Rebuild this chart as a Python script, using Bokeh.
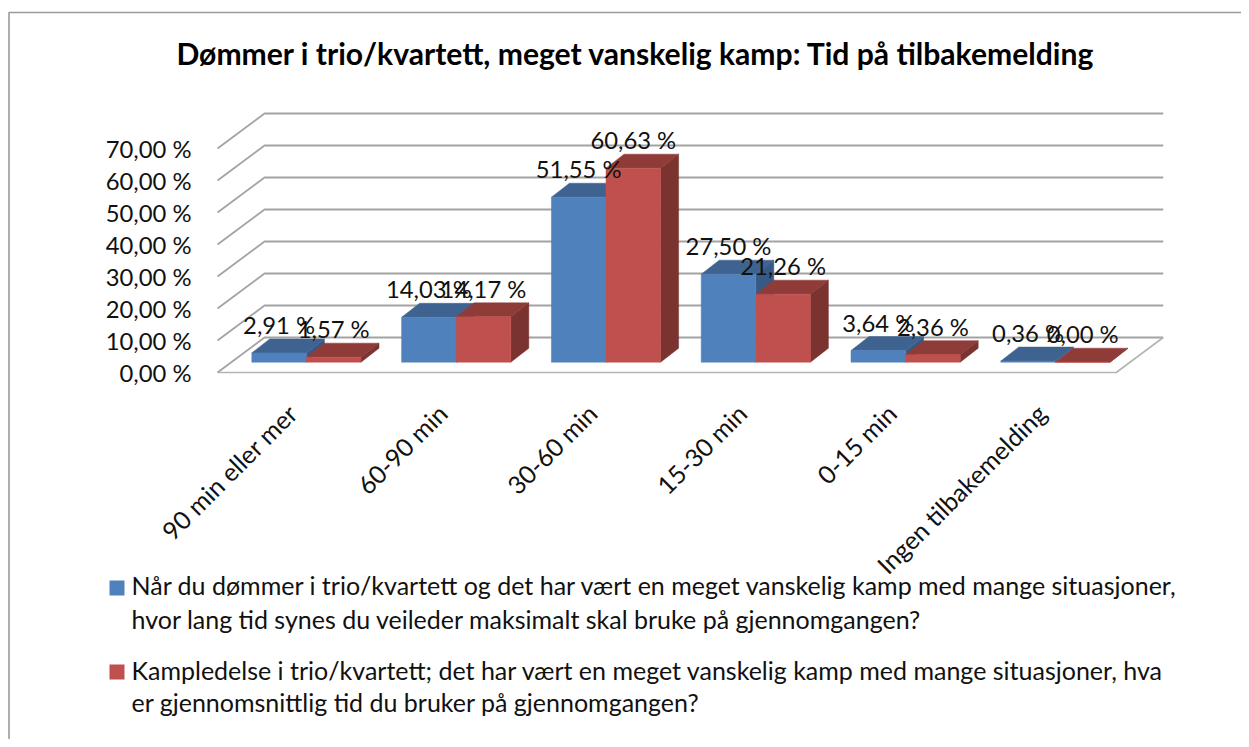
from bokeh.plotting import figure
from bokeh.models import LinearAxis, FixedTicker, Label, Range1d
from bokeh.embed import file_html
from bokeh.resources import INLINE
from bokeh.core.properties import value
import math

# ---------- data ----------
title_text = "Dømmer i trio/kvartett, meget vanskelig kamp: Tid på tilbakemelding"
categories = ["90 min eller mer", "60-90 min", "30-60 min", "15-30 min", "0-15 min", "Ingen tilbakemelding"]
series_a = [2.91, 14.03, 51.55, 27.50, 3.64, 0.36]
series_b = [1.57, 14.17, 60.63, 21.26, 2.36, 0.00]
y_ticks = [0, 10, 20, 30, 40, 50, 60, 70]
y_tick_labels = ["0,00 %", "10,00 %", "20,00 %", "30,00 %", "40,00 %", "50,00 %", "60,00 %", "70,00 %"]
legend_a = ["Når du dømmer i trio/kvartett og det har vært en meget vanskelig kamp med mange situasjoner,",
            "hvor lang tid synes du veileder maksimalt skal bruke på gjennomgangen?"]
legend_b = ["Kampledelse i trio/kvartett; det har vært en meget vanskelig kamp med mange situasjoner, hva",
            "er gjennomsnittlig tid du bruker på gjennomgangen?"]

# ---------- layout constants (pixel positions of the picture) ----------
W, H = 1241, 739
FONT = "Lato"
CAT_PX = 149.8          # px per category
PCT_PX = 3.2            # px per percent
X0_PX = 291.9           # px of first category centre on the front floor edge
Y0_PX = 372.0           # px of 0 % on the front floor edge

def xd(px): return px / CAT_PX          # px length -> data x
def yd(px): return px / PCT_PX          # px length -> data y
def X(px): return (px - X0_PX) / CAT_PX
def Y(px): return (Y0_PX - px) / PCT_PX

p = figure(width=W, height=H, output_backend="svg", toolbar_location=None,
           x_range=Range1d(X(0), X(W)), y_range=Range1d(Y(H), Y(0)),
           min_border=0, min_border_left=0, min_border_right=0, min_border_top=0, min_border_bottom=0,
           x_axis_type=None, y_axis_type=None)
p.grid.visible = False
p.outline_line_color = None
p.background_fill_color = "white"
p.border_fill_color = "white"

GRID = "#A3A3A3"
depth_x, depth_y = xd(47), yd(35)
floor_l = X(217)
floor_r = X(1115.7)

# chart frame (top + left edges only are in view)
p.line([X(W), X(8.5), X(8.5)], [Y(12), Y(12), Y(H)], line_color="#9A9A9A", line_width=1.6)

# gridlines on wall and side wall
xs, ys = [], []
for t in y_ticks:
    xs.append([floor_l, floor_l + depth_x, floor_r + depth_x])
    ys.append([t, t + depth_y, t + depth_y])
p.multi_line(xs, ys, line_color=GRID, line_width=1.8)
# floor front and right edges
p.line([floor_l, floor_r, floor_r + depth_x], [0, 0, depth_y], line_color="#B4B4B4", line_width=1.6)

# ---------- 3D bars ----------
BAR = xd(54.6)
SIDE_X, SIDE_Y = xd(18), yd(14)
BASE = yd(10.3)
SHIFT = xd(14)          # bars stand part-way into the floor depth

def draw_bar(left, val, front, top, side):
    right = left + BAR
    t = BASE + val
    p.patch([right, right + SIDE_X, right + SIDE_X, right],
            [BASE, BASE + SIDE_Y, t + SIDE_Y, t], fill_color=side, line_color=side, line_width=0.5)
    p.patch([left, right, right + SIDE_X, left + SIDE_X],
            [t, t, t + SIDE_Y, t + SIDE_Y], fill_color=top, line_color=top, line_width=0.5)
    p.patch([left, right, right, left], [BASE, BASE, t, t], fill_color=front, line_color=front, line_width=0.5)

BLUE = ("#4F81BD", "#3E6390", "#375A85")
RED = ("#C0504D", "#8F3B38", "#7B3330")
for i in range(len(categories)):
    draw_bar(i + SHIFT - BAR, series_a[i], *BLUE)
    draw_bar(i + SHIFT, series_b[i], *RED)

# data labels
lab_x, lab_y, lab_t = [], [], []
for i in range(len(categories)):
    for off, vals in ((-BAR / 2, series_a), (BAR / 2, series_b)):
        lab_x.append(i + SHIFT + off)
        lab_y.append(BASE + vals[i])
        lab_t.append(f"{vals[i]:.2f} %".replace(".", ","))
p.text(lab_x, lab_y, text=lab_t, text_font=value(FONT), text_font_size="23.8px", text_color="#111111",
       text_align="center", text_baseline="middle", y_offset=-28)

# ---------- axes ----------
ya = LinearAxis(fixed_location=floor_l, ticker=FixedTicker(ticks=y_ticks),
                major_label_overrides=dict(zip(y_ticks, y_tick_labels)))
ya.axis_line_color = None
ya.major_tick_line_color = None
ya.minor_tick_line_color = None
ya.major_label_standoff = 20
ya.major_label_text_font = FONT
ya.major_label_text_font_size = "23.8px"
ya.major_label_text_color = "#111111"
p.add_layout(ya, "left")

cat_ticks = list(range(len(categories)))
xa = LinearAxis(fixed_location=0, ticker=FixedTicker(ticks=cat_ticks),
                major_label_overrides=dict(zip(cat_ticks, categories)))
xa.axis_line_color = None
xa.major_tick_line_color = None
xa.minor_tick_line_color = None
xa.major_label_orientation = math.pi / 4
xa.major_label_standoff = 30
xa.major_label_text_font = FONT
xa.major_label_text_font_size = "25px"
xa.major_label_text_color = "#111111"
p.add_layout(xa, "below")

# ---------- title & legend ----------
p.add_layout(Label(x=635.5, y=H - 52.5, x_units="screen", y_units="screen", text=title_text,
                   text_font=FONT, text_font_size="30.1px", text_font_style="bold", text_color="#000000",
                   text_align="center", text_baseline="middle"))

for swatch_y, text_ys, swatch, lines in ((587.5, (584.5, 618), BLUE[0], legend_a),
                                         (671.5, (669, 701.5), RED[0], legend_b)):
    p.quad(left=X(109), right=X(124), top=Y(swatch_y - 7.5), bottom=Y(swatch_y + 7.5),
           fill_color=swatch, line_color=None)
    for ty, line in zip(text_ys, lines):
        p.add_layout(Label(x=131, y=H - ty, x_units="screen", y_units="screen", text=line,
                           text_font=FONT, text_font_size="25px", text_color="#111111",
                           text_align="left", text_baseline="middle"))

open("out.html", "w").write(file_html(p, INLINE))
